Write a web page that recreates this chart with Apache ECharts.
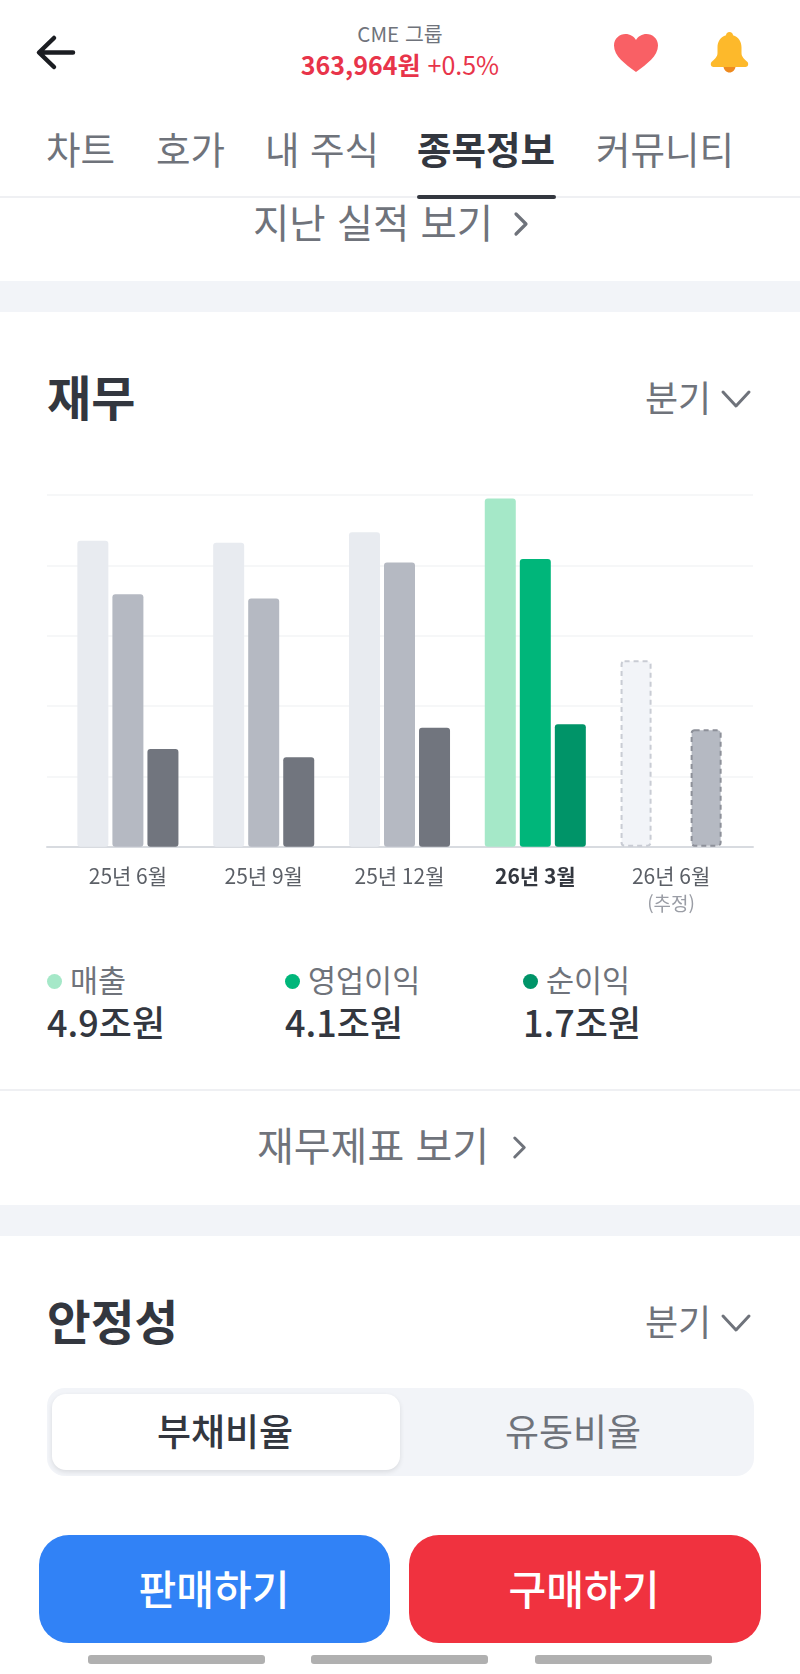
<!DOCTYPE html>
<html lang="ko">
<head>
<meta charset="utf-8">
<title>CME 그룹 재무</title>
<script src="https://cdn.jsdelivr.net/npm/echarts@6/dist/echarts.min.js"></script>
<style>
    html, body { margin: 0; padding: 0; background: #fff; }
    body { position: relative; width: 800px; height: 1674px; overflow: hidden; font-family: "Noto Sans CJK KR", "Noto Sans", sans-serif; color: #33373f; }
    .abs { position: absolute; white-space: nowrap; }
    .mid { transform: translate(-50%, -50%); }
    .left { transform: translateY(-50%); }
    .tab { top: 147px; font-size: 37.5px; color: #6f737b; transform: translateY(-50%); }
    .band { left: 0; width: 800px; background: #f2f4f8; }
    .line { left: 0; width: 800px; height: 2px; background: #eff0f3; }
    .title { left: 47px; font-weight: 700; color: #33373f; }
    .period { left: 645px; font-size: 36px; color: #6f737b; }
    .link { color: #6f737b; }
    .legend-dot { width: 15px; height: 15px; border-radius: 50%; }
    .legend-name { font-size: 30.5px; color: #6f737b; }
    .legend-value { font-size: 36px; font-weight: 500; color: #33373f; }
    .btn { top: 1535px; height: 108px; border-radius: 30px; }
    .btn-text { top: 1587px; font-size: 41px; font-weight: 500; color: #fff; }
    .pill { top: 1655px; height: 9px; width: 177px; border-radius: 3px; background: #b0b0b0; }
    #chart { position: absolute; left: 0; top: 440px; width: 800px; height: 490px; }
</style>
</head>
<body>

<!-- 상단 헤더 -->
<svg class="abs" style="left:34px;top:33px" width="44" height="40" viewBox="0 0 44 40">
    <path d="M6 19.5H39M20 5L5 19.5L20 34" fill="none" stroke="#1b1d22" stroke-width="4.5" stroke-linecap="round" stroke-linejoin="round"/>
</svg>
<div class="abs mid" style="left:400px;top:33px;font-size:20.5px;color:#6f737b">CME 그룹</div>
<div class="abs mid" style="left:400px;top:64px;font-size:25px;color:#e8344a"><b>363,964원</b> +0.5%</div>
<svg class="abs" style="left:613px;top:33px" width="46" height="40" viewBox="0 0 46 40">
    <path d="M23 39C12 31 1 23 1 12.5C1 5.5 6.5 1 12.5 1C17 1 21 3.5 23 7C25 3.5 29 1 33.5 1C39.5 1 45 5.5 45 12.5C45 23 34 31 23 39Z" fill="#f96065"/>
</svg>
<svg class="abs" style="left:709px;top:31px" width="41" height="42" viewBox="0 0 40 42">
    <path d="M14 35H26C26 39 23 41.5 20 41.5C17 41.5 14 39 14 35Z" fill="#ee8a1e"/>
    <path d="M20 1C22 1 23.5 2.5 23.5 4.2C29 5.8 32 10.5 32 16.5V22C32 26 35 28 38 31C39.5 33 38.5 36 36 36H4C1.500 36 .5 33 2 31C5 28 8 26 8 22V16.500C8 10.500 11 5.800 16.500 4.200C16.500 2.500 18 1 20 1Z" fill="#fdb92b"/>
</svg>

<!-- 탭 -->
<div class="abs tab" style="left:46px">차트</div>
<div class="abs tab" style="left:156px">호가</div>
<div class="abs tab" style="left:265px">내 주식</div>
<div class="abs tab" style="left:417px;color:#33373f;font-weight:700">종목정보</div>
<div class="abs tab" style="left:596px">커뮤니티</div>
<div class="abs line" style="top:196px"></div>
<div class="abs" style="left:417px;top:195px;width:139px;height:4px;border-radius:2px;background:#33373f"></div>

<div class="abs link left" style="left:253px;top:220px;font-size:39.5px">지난 실적 보기</div>
<svg class="abs" style="left:512px;top:211px" width="18" height="26" viewBox="0 0 18 26">
    <path d="M4 3L14 13L4 23" fill="none" stroke="#6f737b" stroke-width="3.200" stroke-linecap="round" stroke-linejoin="round"/>
</svg>
<div class="abs band" style="top:281px;height:31px"></div>

<!-- 재무 -->
<div class="abs title left" style="top:395px;font-size:48px">재무</div>
<div class="abs period left" style="top:396px">분기</div>
<svg class="abs" style="left:720px;top:388px" width="32" height="22" viewBox="0 0 32 22">
    <path d="M3 4L16 18L29 4" fill="none" stroke="#6f737b" stroke-width="3" stroke-linecap="round" stroke-linejoin="round"/>
</svg>

<div id="chart"></div>

<div class="abs legend-dot" style="left:47px;top:974px;background:#a5e8c8"></div>
<div class="abs legend-name left" style="left:70px;top:979px">매출</div>
<div class="abs legend-value left" id="val0" style="left:47px;top:1021px"></div>
<div class="abs legend-dot" style="left:285px;top:974px;background:#00b67a"></div>
<div class="abs legend-name left" style="left:308px;top:979px">영업이익</div>
<div class="abs legend-value left" id="val1" style="left:285px;top:1021px"></div>
<div class="abs legend-dot" style="left:523px;top:974px;background:#009468"></div>
<div class="abs legend-name left" style="left:546px;top:979px">순이익</div>
<div class="abs legend-value left" id="val2" style="left:523px;top:1021px"></div>

<div class="abs line" style="top:1089px"></div>
<div class="abs link left" style="left:257px;top:1144px;font-size:40px">재무제표 보기</div>
<svg class="abs" style="left:511px;top:1135px" width="17" height="25" viewBox="0 0 18 26">
    <path d="M4 3L14 13L4 23" fill="none" stroke="#6f737b" stroke-width="3.200" stroke-linecap="round" stroke-linejoin="round"/>
</svg>
<div class="abs band" style="top:1205px;height:31px"></div>

<!-- 안정성 -->
<div class="abs title left" style="top:1319px;font-size:47.5px">안정성</div>
<div class="abs period left" style="top:1320px">분기</div>
<svg class="abs" style="left:720px;top:1312px" width="32" height="22" viewBox="0 0 32 22">
    <path d="M3 4L16 18L29 4" fill="none" stroke="#6f737b" stroke-width="3" stroke-linecap="round" stroke-linejoin="round"/>
</svg>
<div class="abs" style="left:47px;top:1388px;width:707px;height:88px;border-radius:18px;background:#f2f4f8"></div>
<div class="abs" style="left:52px;top:1394px;width:348px;height:76px;border-radius:14px;background:#fff;box-shadow:0 2px 5px rgba(0,0,0,.1)"></div>
<div class="abs mid" style="left:225px;top:1430px;font-size:37px;font-weight:500;color:#33373f">부채비율</div>
<div class="abs mid" style="left:573px;top:1430px;font-size:37px;color:#6f737b">유동비율</div>

<!-- 하단 버튼 -->
<div class="abs btn" style="left:39px;width:351px;background:#3182f6"></div>
<div class="abs btn" style="left:409px;width:352px;background:#f0323f"></div>
<div class="abs btn-text mid" style="left:214px">판매하기</div>
<div class="abs btn-text mid" style="left:584px">구매하기</div>
<div class="abs pill" style="left:88px"></div>
<div class="abs pill" style="left:311px"></div>
<div class="abs pill" style="left:535px"></div>

<script>
/* ===================== 데이터 ===================== */
var categories = ['25년 6월', '25년 9월', '25년 12월', '26년 3월', '26년 6월'];
var revenue = [4.35, 4.32, 4.47, 4.95, 2.65];
var operatingProfit = [3.59, 3.53, 4.04, 4.09, null];
var netProfit = [1.39, 1.27, 1.69, 1.74, 1.67];
var yTicks = [0, 1, 2, 3, 4, 5];
var currentLabels = ['4.9조원', '4.1조원', '1.7조원'];
var currentIndex = 3;
var estimateIndex = 4;
/* ===================== end ===================== */

currentLabels.forEach(function (text, i) {
    document.getElementById('val' + i).textContent = text;
});

// 실적 발표 분기는 초록, 추정치는 점선, 나머지는 회색
function barData(values, normal, current, estimate, estimateBorder, borderWidth) {
    return values.map(function (v, i) {
        var style = {color: normal, borderRadius: 3};
        if (i === currentIndex) {
            style.color = current;
        }
        if (i === estimateIndex) {
            style.color = estimate;
            style.borderColor = estimateBorder;
            style.borderWidth = borderWidth;
            style.borderType = [5, 4];
        }
        return {value: v, itemStyle: style};
    });
}

var chart = echarts.init(document.getElementById('chart'));
var gridTop = 55;
var gridHeight = 351.7;

chart.setOption({
    animation: false,
    // 막대 영역과 배경 격자의 좌우 폭이 달라 그리드를 두 개 둔다
    grid: [
        {left: 60, width: 679, top: gridTop, height: gridHeight},
        {left: 47, width: 706, top: gridTop, height: gridHeight}
    ],
    xAxis: [
        {
            type: 'category',
            gridIndex: 0,
            data: categories,
            axisLine: {show: false},
            axisTick: {show: false},
            axisLabel: {
                margin: 15,
                interval: 0,
                formatter: function (name, i) {
                    if (i === currentIndex) {
                        return '{strong|' + name + '}';
                    }
                    if (i === estimateIndex) {
                        return '{normal|' + name + '}\n{note|(추정)}';
                    }
                    return '{normal|' + name + '}';
                },
                rich: {
                    normal: {fontSize: 21, lineHeight: 28, color: '#5b5f66', fontFamily: 'Noto Sans CJK KR'},
                    strong: {fontSize: 21, lineHeight: 28, color: '#33373f', fontWeight: 700, fontFamily: 'Noto Sans CJK KR'},
                    note: {fontSize: 19, lineHeight: 28, color: '#9a9da5', fontFamily: 'Noto Sans CJK KR'}
                }
            }
        },
        {
            type: 'value',
            gridIndex: 1,
            min: 0,
            max: 1,
            axisLine: {show: true, onZero: false, lineStyle: {color: '#d8dbe0', width: 2}},
            axisTick: {show: false},
            axisLabel: {show: false},
            splitLine: {show: false}
        }
    ],
    yAxis: [
        {
            type: 'value',
            gridIndex: 0,
            min: yTicks[0],
            max: yTicks[yTicks.length - 1],
            interval: 1,
            axisLine: {show: false},
            axisTick: {show: false},
            axisLabel: {show: false},
            splitLine: {show: false}
        },
        {
            type: 'value',
            gridIndex: 1,
            min: yTicks[0],
            max: yTicks[yTicks.length - 1],
            interval: 1,
            axisLine: {show: false},
            axisTick: {show: false},
            axisLabel: {show: false},
            splitLine: {lineStyle: {color: '#f3f4f6', width: 1.5}}
        }
    ],
    series: [
        {
            name: '매출',
            type: 'bar',
            barWidth: 31,
            barGap: '13%',
            data: barData(revenue, '#e8ebf0', '#a5e8c8', '#f2f4f8', '#c9ccd4', 2)
        },
        {
            name: '영업이익',
            type: 'bar',
            barWidth: 31,
            barGap: '13%',
            data: barData(operatingProfit, '#b5b9c2', '#00b67a', '#b5b9c2', '#8d9099', 2)
        },
        {
            name: '순이익',
            type: 'bar',
            barWidth: 31,
            barGap: '13%',
            data: barData(netProfit, '#71757e', '#009468', '#b5b9c2', '#8d9099', 2)
        }
    ]
});
</script>
</body>
</html>
